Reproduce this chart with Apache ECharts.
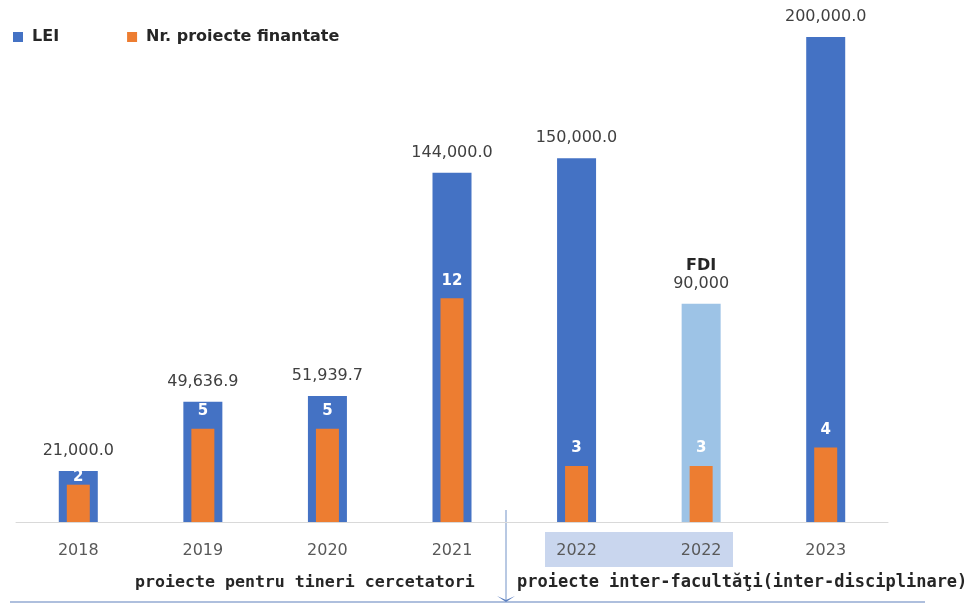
<!DOCTYPE html>
<html><head><meta charset="utf-8">
<script src="https://cdn.jsdelivr.net/npm/echarts@6/dist/echarts.min.js"></script>
<style>html,body{margin:0;padding:0;background:#fff;}#c{width:971px;height:604px;}</style>
</head><body><div id="c"></div>
<script>
const categories = ['2018','2019','2020','2021','2022','2022','2023'];
const lei = [21000, 49636.9, 51939.7, 144000, 150000, 90000, 200000];
const proiecte = [2, 5, 5, 12, 3, 3, 4];
const fdiIndex = 5;
const groupLabels = ['proiecte pentru tineri cercetatori', 'proiecte inter-facultăţi(inter-disciplinare)'];

const chart = echarts.init(document.getElementById('c'));
const FONT = '"DejaVu Sans", sans-serif';
function fmt(v, i) {
  if (i === fdiIndex) return '{b|FDI}\n' + v.toLocaleString('en-US');
  return v.toLocaleString('en-US', {minimumFractionDigits: 1, maximumFractionDigits: 1});
}
chart.setOption({
  animation: false,
  legend: {
    left: 8, top: 24, itemWidth: 10, itemHeight: 10, itemGap: 68, icon: 'rect',
    textStyle: {fontFamily: FONT, fontSize: 16, fontWeight: 'bold', color: '#262626', padding: [0, 0, 0, 4]},
    data: ['LEI', 'Nr. proiecte finantate']
  },
  grid: [
    {left: 16, right: 83, top: 37, bottom: 82},
    {left: 16, right: 83, top: 37, bottom: 82}
  ],
  xAxis: [
    {type: 'category', gridIndex: 0, data: categories,
     axisLine: {lineStyle: {color: '#d9d9d9'}}, axisTick: {show: false},
     axisLabel: {fontFamily: FONT, fontSize: 16, color: '#595959', margin: 21}},
    {type: 'category', gridIndex: 1, data: categories, show: false}
  ],
  yAxis: [
    {type: 'value', gridIndex: 0, min: 0, max: 200000, show: false, splitLine: {show: false}},
    {type: 'value', gridIndex: 1, min: 0, max: 26, show: false, splitLine: {show: false}}
  ],
  series: [
    {name: 'LEI', type: 'bar', xAxisIndex: 0, yAxisIndex: 0, barWidth: 39,
     itemStyle: {color: '#4472C4'},
     data: lei.map((v, i) => i === fdiIndex ? {value: v, itemStyle: {color: '#9DC3E6'}} : v),
     label: {show: true, position: 'top', distance: 11, fontFamily: FONT, fontSize: 16, color: '#404040', lineHeight: 18,
       formatter: p => fmt(p.value, p.dataIndex),
       rich: {b: {fontFamily: FONT, fontSize: 16, fontWeight: 'bold', color: '#262626', lineHeight: 18}}}
    },
    {name: 'Nr. proiecte finantate', type: 'bar', xAxisIndex: 1, yAxisIndex: 1, barWidth: 23,
     itemStyle: {color: '#ED7D31'}, z: 3,
     data: proiecte.map((v, i) => i === 0 ? {value: v, label: {distance: 0}} : v),
     label: {show: true, position: 'top', distance: 10, fontFamily: FONT, fontSize: 15, fontWeight: 'bold', color: '#ffffff'}
    }
  ],
  graphic: [
    {type: 'rect', z: -10, shape: {x: 545, y: 532, width: 188, height: 35}, style: {fill: '#c9d6ee'}},
    {type: 'line', shape: {x1: 10, y1: 602, x2: 925, y2: 602}, style: {stroke: '#aebfdd', lineWidth: 2}},
    {type: 'line', shape: {x1: 506, y1: 510, x2: 506, y2: 600}, style: {stroke: '#7393c7', lineWidth: 1}},
    {type: 'polygon', shape: {points: [[497, 596], [506, 602], [515, 596], [506, 600]]}, style: {fill: '#5b7fbf'}},
    {type: 'text', left: 135, top: 574, style: {text: groupLabels[0], font: 'bold 16.6px "DejaVu Sans Mono"', fill: '#262626'}},
    {type: 'text', left: 517, top: 574, style: {text: groupLabels[1], font: 'bold 17px "DejaVu Sans Mono"', fill: '#262626'}}
  ]
});
</script></body></html>
